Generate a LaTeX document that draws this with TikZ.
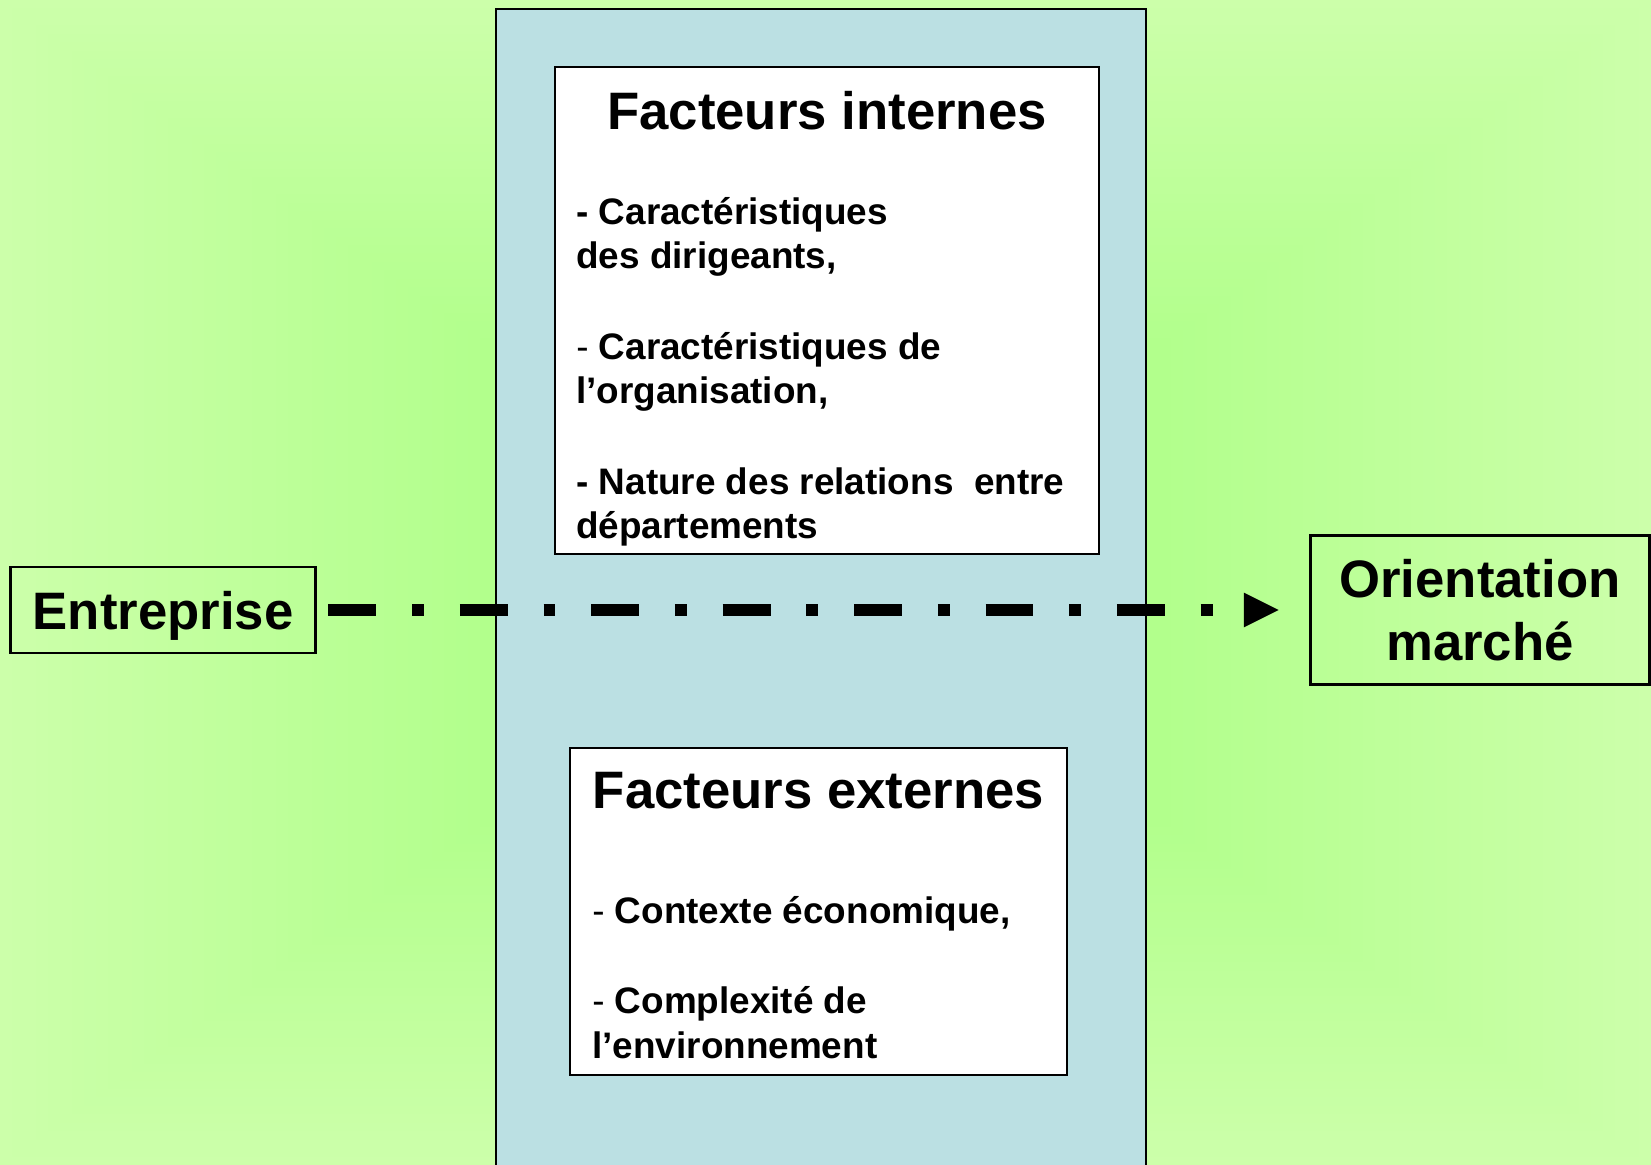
\documentclass[tikz,border=0pt]{standalone}
\usepackage{fontspec}
\setmainfont{Liberation Sans}
\usetikzlibrary{arrows.meta}
\definecolor{bgin}{RGB}{178,255,140}
\definecolor{bgout}{RGB}{204,255,170}
\definecolor{panelblue}{RGB}{187,224,227}
\tikzstyle{panel} = [rectangle, draw=black, line width=1.2pt, fill=panelblue, anchor=north west, minimum width=13cm, minimum height=23.44cm]
\tikzstyle{factorbox} = [rectangle, draw=black, line width=1.2pt, fill=white]
\tikzstyle{endpoint} = [rectangle, draw=black, line width=1.2pt, text depth=0pt, align=center, font=\fontsize{30}{36}\selectfont\bfseries]
\tikzstyle{titletext} = [inner sep=0pt, font=\fontsize{30}{36}\selectfont\bfseries]
\tikzstyle{listtext} = [inner sep=0pt, align=left, anchor=north west, font=\fontsize{21}{25.4}\selectfont\bfseries]
\tikzstyle{arrow} = [line width=6.8pt, dash pattern=on 27.2pt off 20.4pt on 6.8pt off 20.4pt, shorten <=6.8pt, shorten >=17.6pt, -{Triangle[length=19.8pt, width=19.8pt, line width=0pt]}]

\begin{document}
\begin{tikzpicture}[x=0.02cm, y=-0.02cm]
\useasboundingbox (0,0) rectangle (1651,1165);
% Background: light green at the edges, stronger towards the middle
\foreach \i in {0,...,40} {
  \pgfmathsetmacro\pct{2.5*\i}
  \fill [bgin!\pct!bgout] (12*\i,8.45*\i) rectangle (1651-12*\i,1165-8.45*\i);
}

% Central column
\node (panel) [panel] at (495,8) {};

% Internal factors
\node (intbox) [factorbox, minimum width=10.88cm, minimum height=9.74cm] at (827,310.5) {};
\node (inttitle) [titletext, anchor=base] at (827,130) {Facteurs internes};
% the rule fixes the height of the first line (21pt above its baseline)
\node (intlist) [listtext] at (576,187) {\rule{0pt}{21pt}- Caractéristiques\\des dirigeants,\\[26pt]\textmd{-} Caractéristiques de\\l’organisation,\\[26pt]- Nature des relations~ entre\\départements};

% External factors
\node (extbox) [factorbox, minimum width=9.94cm, minimum height=6.54cm] at (818.5,911.5) {};
\node (exttitle) [titletext, anchor=base] at (818.5,808) {Facteurs externes};
\node (extlist) [listtext] at (592,886) {\rule{0pt}{21pt}\textmd{-} Contexte économique,\\[26pt]\textmd{-} Complexité de\\l’environnement};

% Start and end
\node (ent) [endpoint, minimum width=6.1cm, minimum height=1.72cm] at (163,610) {Entreprise};
\node (ori) [endpoint, minimum width=6.78cm, minimum height=2.98cm] at (1480,610) {Orientation\\marché};
\draw [arrow] (ent.east) -- (ori.west);
\end{tikzpicture}
\end{document}
